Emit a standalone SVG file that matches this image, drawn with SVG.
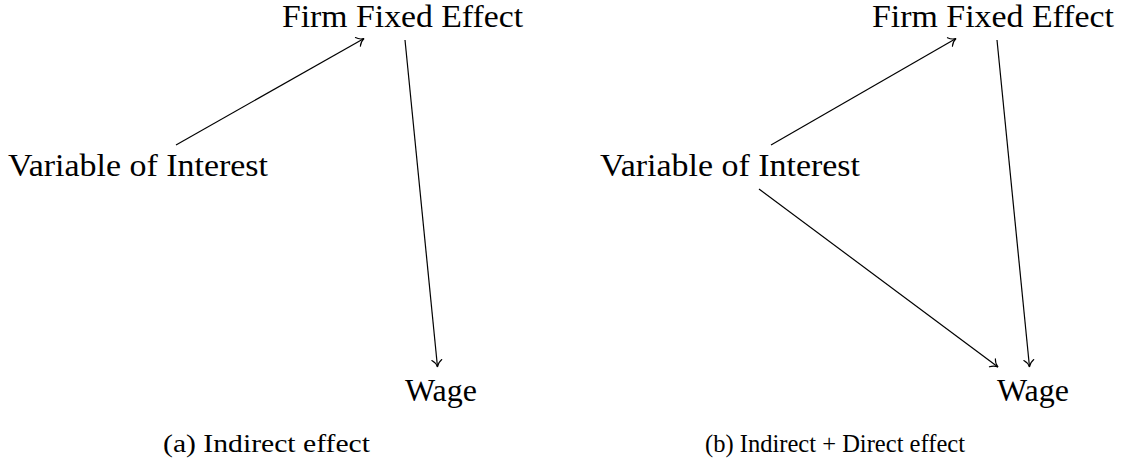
<svg xmlns="http://www.w3.org/2000/svg" width="1123" height="465" viewBox="0 0 1123 465">
<style>
.n{font-family:"Liberation Serif","Times New Roman",serif;font-size:32px;fill:#000}
.c{font-family:"Liberation Serif","Times New Roman",serif;font-size:25px;fill:#000}
.e{stroke:#000;stroke-width:1.2;fill:none;marker-end:url(#to)}
</style>
<defs>
<marker id="to" viewBox="-8 -6 10 12" refX="0" refY="0" markerWidth="10" markerHeight="12" markerUnits="userSpaceOnUse" orient="auto">
<path d="M-7,-5 C-5,-2 -2,-0.5 0,0 C-2,0.5 -5,2 -7,5" fill="none" stroke="#000" stroke-width="1.1" stroke-linecap="round"/>
</marker>
</defs>
<rect width="1123" height="465" fill="#fff"/>
<g id="a-firm"><text class="n" x="282" y="27" textLength="241" lengthAdjust="spacingAndGlyphs">Firm Fixed Effect</text></g>
<g id="a-var"><text class="n" x="8" y="176" textLength="260" lengthAdjust="spacingAndGlyphs">Variable of Interest</text></g>
<g id="a-wage"><text class="n" x="405" y="401" textLength="72" lengthAdjust="spacingAndGlyphs">Wage</text></g>
<g id="a-caption"><text class="c" x="163" y="452" textLength="207" lengthAdjust="spacingAndGlyphs">(a) Indirect effect</text></g>
<g id="b-firm"><text class="n" x="872" y="27" textLength="242" lengthAdjust="spacingAndGlyphs">Firm Fixed Effect</text></g>
<g id="b-var"><text class="n" x="600" y="176" textLength="260" lengthAdjust="spacingAndGlyphs">Variable of Interest</text></g>
<g id="b-wage"><text class="n" x="997" y="401" textLength="72" lengthAdjust="spacingAndGlyphs">Wage</text></g>
<g id="b-caption"><text class="c" x="705" y="452" textLength="260" lengthAdjust="spacingAndGlyphs">(b) Indirect + Direct effect</text></g>
<g id="connectors">
<line class="e" x1="176" y1="145" x2="364" y2="38.5"/>
<line class="e" x1="405" y1="40" x2="437.5" y2="367"/>
<line class="e" x1="771" y1="145" x2="956" y2="38.5"/>
<line class="e" x1="997" y1="40" x2="1029.5" y2="367"/>
<line class="e" x1="759" y1="189" x2="998" y2="367"/>
</g>
</svg>
